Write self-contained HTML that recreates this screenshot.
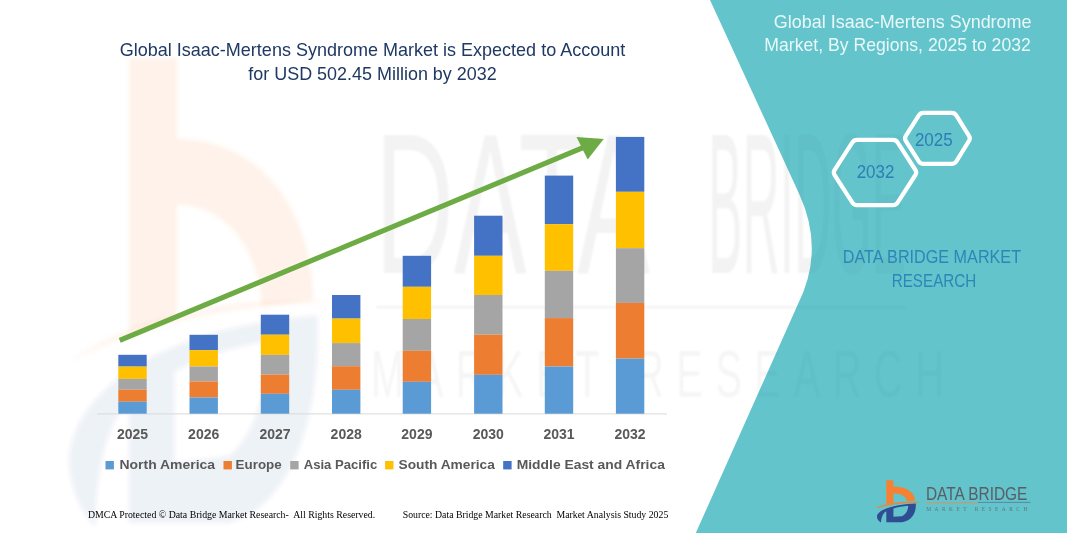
<!DOCTYPE html>
<html lang="en">
<head>
<meta charset="utf-8">
<title>Global Isaac-Mertens Syndrome Market</title>
<style>
html,body{margin:0;padding:0;background:#fff;}
body{width:1067px;height:533px;overflow:hidden;position:relative;}
svg{display:block;position:absolute;left:0;top:0;}
.sans{font-family:"Liberation Sans","DejaVu Sans",sans-serif;}
.serif{font-family:"Liberation Serif","DejaVu Serif",serif;}
</style>
</head>
<body>
<svg width="1067" height="533" viewBox="0 0 1067 533">
  <defs>
    <filter id="blur2" x="-10%" y="-10%" width="120%" height="120%"><feGaussianBlur stdDeviation="2"/></filter>
    <filter id="blur1" x="-10%" y="-10%" width="120%" height="120%"><feGaussianBlur stdDeviation="1.2"/></filter>
    <path id="lg-b" d="M886.3,480.2 L893.4,480.2 L893.4,486.4 C905,486 914.5,491.5 915.3,500.6 L907.2,501.4 C906.8,496.5 901,493.2 893.4,493.4 L893.4,503.0 L886.3,504.4 Z"/>
    <path id="lg-sw" d="M877.1,507.6 C888,503.2 903,501.6 918.2,502.3 C903,502.4 889,504.2 877.1,507.6 Z"/>
    <path id="lg-d" fill-rule="evenodd" d="M877,515.8 C879,509.5 893,504.5 915.8,503.5 C916.5,514 910.5,521 902,522.2 L886.3,522.2 L886.3,511.2 C883,513 881,517.5 881,522.6 C878.5,521 876.6,518.6 877,515.8 Z M893.4,508.6 L893.4,516.8 L902,516.2 C905.6,514.5 908,511 908.2,505.8 C903,506.2 897.5,507.2 893.4,508.6 Z"/>
    <mask id="wmmask" maskUnits="userSpaceOnUse" x="0" y="0" width="1067" height="533"><rect width="1067" height="533" fill="#fff"/><path d="M710,0 L1067,0 L1067,533 L695.8,533 L798,304 Q825,250 799.2,194 Z" fill="#707070"/></mask>
  </defs>
  <rect width="1067" height="533" fill="#ffffff"/>

  <!-- watermark (left, on white) -->
  <g id="wm-left" filter="url(#blur2)">
    <path d="M129,58 L177,58 L177,139 C255,139 310,200 314,300 L262,306 C258,250 228,205 177,205 L177,318 L129,333 Z" fill="#f58233" opacity="0.10"/>
    <g transform="translate(129,58) scale(6.38,11.06) translate(-886.3,-480.2)">
    <use href="#lg-sw" fill="#f58233" opacity="0.08"/>
    <use href="#lg-d" fill="#2e4a8a" opacity="0.07"/>
  </g></g>

  <!-- teal panel -->
  <path id="teal" d="M710,0 L1067,0 L1067,533 L695.8,533 L798,304 Q825,250 799.2,194 Z" fill="#63c4cb"/>

  <!-- watermark text -->
  <g mask="url(#wmmask)"><g id="wm-text" class="sans" filter="url(#blur1)" opacity="0.05" fill="#000">
    <text x="375" y="273" font-size="200" textLength="275" lengthAdjust="spacingAndGlyphs">DATA</text>
    <text x="708" y="273" font-size="200" textLength="198" lengthAdjust="spacingAndGlyphs">BRIDGE</text>
    <rect x="376" y="306" width="530" height="2.5"/>
    <text transform="translate(371,397) scale(0.6,1)" x="0" y="0" font-size="66" textLength="955" lengthAdjust="spacing" opacity="0.8">MARKET RESEARCH</text>
  </g></g>

  <!-- chart title -->
  <g class="sans" fill="#1f3864" font-size="18.6" text-anchor="middle">
    <text x="372.5" y="56" textLength="505.5" lengthAdjust="spacingAndGlyphs">Global Isaac-Mertens Syndrome Market is Expected to Account</text>
    <text x="372.5" y="80" textLength="248.5" lengthAdjust="spacingAndGlyphs">for USD 502.45 Million by 2032</text>
  </g>

  <!-- axis -->
  <rect x="97" y="413.4" width="570" height="1" fill="#d9d9d9"/>

  <!-- bars -->
  <g id="bars">
    <!-- 2025 -->
    <rect x="118.3" y="354.8" width="28.4" height="11.8" fill="#4472c4"/>
    <rect x="118.3" y="366.6" width="28.4" height="12.3" fill="#ffc000"/>
    <rect x="118.3" y="378.9" width="28.4" height="10.8" fill="#a5a5a5"/>
    <rect x="118.3" y="389.7" width="28.4" height="12.0" fill="#ed7d31"/>
    <rect x="118.3" y="401.7" width="28.4" height="12.0" fill="#5b9bd5"/>
    <!-- 2026 -->
    <rect x="189.5" y="334.8" width="28.4" height="15.4" fill="#4472c4"/>
    <rect x="189.5" y="350.2" width="28.4" height="16.3" fill="#ffc000"/>
    <rect x="189.5" y="366.5" width="28.4" height="14.9" fill="#a5a5a5"/>
    <rect x="189.5" y="381.4" width="28.4" height="16.1" fill="#ed7d31"/>
    <rect x="189.5" y="397.5" width="28.4" height="16.2" fill="#5b9bd5"/>
    <!-- 2027 -->
    <rect x="260.8" y="314.7" width="28.4" height="20.0" fill="#4472c4"/>
    <rect x="260.8" y="334.7" width="28.4" height="20.2" fill="#ffc000"/>
    <rect x="260.8" y="354.9" width="28.4" height="19.7" fill="#a5a5a5"/>
    <rect x="260.8" y="374.6" width="28.4" height="19.2" fill="#ed7d31"/>
    <rect x="260.8" y="393.8" width="28.4" height="19.9" fill="#5b9bd5"/>
    <!-- 2028 -->
    <rect x="332.0" y="295.0" width="28.4" height="23.6" fill="#4472c4"/>
    <rect x="332.0" y="318.6" width="28.4" height="24.5" fill="#ffc000"/>
    <rect x="332.0" y="343.1" width="28.4" height="23.1" fill="#a5a5a5"/>
    <rect x="332.0" y="366.2" width="28.4" height="23.6" fill="#ed7d31"/>
    <rect x="332.0" y="389.8" width="28.4" height="23.9" fill="#5b9bd5"/>
    <!-- 2029 -->
    <rect x="402.7" y="255.8" width="28.4" height="31.0" fill="#4472c4"/>
    <rect x="402.7" y="286.8" width="28.4" height="32.2" fill="#ffc000"/>
    <rect x="402.7" y="319.0" width="28.4" height="31.8" fill="#a5a5a5"/>
    <rect x="402.7" y="350.8" width="28.4" height="31.0" fill="#ed7d31"/>
    <rect x="402.7" y="381.8" width="28.4" height="31.9" fill="#5b9bd5"/>
    <!-- 2030 -->
    <rect x="474.1" y="215.7" width="28.4" height="40.1" fill="#4472c4"/>
    <rect x="474.1" y="255.8" width="28.4" height="39.2" fill="#ffc000"/>
    <rect x="474.1" y="295.0" width="28.4" height="39.7" fill="#a5a5a5"/>
    <rect x="474.1" y="334.7" width="28.4" height="40.1" fill="#ed7d31"/>
    <rect x="474.1" y="374.8" width="28.4" height="38.9" fill="#5b9bd5"/>
    <!-- 2031 -->
    <rect x="544.8" y="175.6" width="28.4" height="48.6" fill="#4472c4"/>
    <rect x="544.8" y="224.2" width="28.4" height="46.6" fill="#ffc000"/>
    <rect x="544.8" y="270.8" width="28.4" height="47.3" fill="#a5a5a5"/>
    <rect x="544.8" y="318.1" width="28.4" height="48.4" fill="#ed7d31"/>
    <rect x="544.8" y="366.5" width="28.4" height="47.2" fill="#5b9bd5"/>
    <!-- 2032 -->
    <rect x="615.9" y="136.9" width="28.4" height="54.9" fill="#4472c4"/>
    <rect x="615.9" y="191.8" width="28.4" height="56.4" fill="#ffc000"/>
    <rect x="615.9" y="248.2" width="28.4" height="54.7" fill="#a5a5a5"/>
    <rect x="615.9" y="302.9" width="28.4" height="55.7" fill="#ed7d31"/>
    <rect x="615.9" y="358.6" width="28.4" height="55.1" fill="#5b9bd5"/>
  </g>

  <!-- trend arrow -->
  <g id="arrow">
    <line x1="119.7" y1="340.4" x2="586" y2="146.3" stroke="#6dab44" stroke-width="5.2"/>
    <polygon points="603.8,138.9 576.5,136.9 587.7,159.4" fill="#6dab44"/>
  </g>

  <!-- year labels -->
  <g class="sans" font-weight="bold" font-size="14" fill="#595959" text-anchor="middle">
    <text x="132.5" y="439">2025</text>
    <text x="203.7" y="439">2026</text>
    <text x="275.0" y="439">2027</text>
    <text x="346.2" y="439">2028</text>
    <text x="416.9" y="439">2029</text>
    <text x="488.3" y="439">2030</text>
    <text x="559.0" y="439">2031</text>
    <text x="630.1" y="439">2032</text>
  </g>

  <!-- legend -->
  <g id="legend">
    <rect x="105.5" y="461" width="8.4" height="8.4" fill="#5b9bd5"/>
    <rect x="223.5" y="461" width="8.4" height="8.4" fill="#ed7d31"/>
    <rect x="290.2" y="461" width="8.4" height="8.4" fill="#a5a5a5"/>
    <rect x="385.1" y="461" width="8.4" height="8.4" fill="#ffc000"/>
    <rect x="503.2" y="461" width="8.4" height="8.4" fill="#4472c4"/>
    <g class="sans" font-weight="bold" font-size="13.6" fill="#595959">
      <text x="119.5" y="469" textLength="95.6" lengthAdjust="spacingAndGlyphs">North America</text>
      <text x="235.6" y="469" textLength="46.1" lengthAdjust="spacingAndGlyphs">Europe</text>
      <text x="303.7" y="469" textLength="73.6" lengthAdjust="spacingAndGlyphs">Asia Pacific</text>
      <text x="398.5" y="469" textLength="96.4" lengthAdjust="spacingAndGlyphs">South America</text>
      <text x="516.7" y="469" textLength="148.2" lengthAdjust="spacingAndGlyphs">Middle East and Africa</text>
    </g>
  </g>

  <!-- footer -->
  <g class="serif" font-size="9.5" fill="#000">
    <text x="87.9" y="517.9" textLength="287.3" lengthAdjust="spacingAndGlyphs" xml:space="preserve">DMCA Protected © Data Bridge Market Research-  All Rights Reserved.</text>
    <text x="402.7" y="517.9" textLength="265.6" lengthAdjust="spacingAndGlyphs" xml:space="preserve">Source: Data Bridge Market Research  Market Analysis Study 2025</text>
  </g>

  <!-- right panel title -->
  <g class="sans" font-size="18.2" fill="#e9f8f9" text-anchor="end">
    <text x="1031.6" y="27.9" textLength="257.8" lengthAdjust="spacingAndGlyphs">Global Isaac-Mertens Syndrome</text>
    <text x="1030.8" y="51.1" textLength="266.5" lengthAdjust="spacingAndGlyphs">Market, By Regions, 2025 to 2032</text>
  </g>

  <!-- hexagons -->
  <g fill="none" stroke="#ffffff" stroke-width="4.2" stroke-linejoin="round">
    <path d="M834.6,175.0 Q833.0,172.5 834.6,170.0 L852.4,142.3 Q854.0,139.8 857.0,139.8 L893.0,139.8 Q896.0,139.8 897.6,142.3 L915.4,170.0 Q917.0,172.5 915.4,175.0 L897.6,202.7 Q896.0,205.2 893.0,205.2 L857.0,205.2 Q854.0,205.2 852.4,202.7 Z"/>
    <path d="M905.8,140.8 Q904.2,138.3 905.8,135.8 L918.8,115.3 Q920.4,112.8 923.4,112.8 L951.7,112.8 Q954.7,112.8 956.3,115.3 L969.0,135.8 Q970.6,138.3 969.0,140.8 L956.3,161.3 Q954.7,163.8 951.7,163.8 L923.4,163.8 Q920.4,163.8 918.8,161.3 Z"/>
  </g>
  <g class="sans" font-size="18" fill="#2e7db7" text-anchor="middle">
    <text x="875.5" y="177.7" textLength="37.7" lengthAdjust="spacingAndGlyphs">2032</text>
    <text x="933.8" y="145.7" textLength="37.8" lengthAdjust="spacingAndGlyphs">2025</text>
  </g>

  <!-- DBMR text -->
  <g class="sans" font-size="17.6" fill="#2e86b8" text-anchor="middle">
    <text x="931.9" y="263" textLength="178.3" lengthAdjust="spacingAndGlyphs">DATA BRIDGE MARKET</text>
    <text x="934" y="286.7" textLength="84.5" lengthAdjust="spacingAndGlyphs">RESEARCH</text>
  </g>

  <!-- logo -->
  <g id="logo">
    <use href="#lg-b" fill="#f58233"/>
    <use href="#lg-sw" fill="#f58233" stroke="#f58233" stroke-width="0.8" stroke-linejoin="round"/>
    <use href="#lg-d" fill="#2e4d92"/>
    <!-- text -->
    <text class="sans" x="925.9" y="499.7" font-size="17.6" fill="#5a5d66" textLength="101.5" lengthAdjust="spacingAndGlyphs">DATA BRIDGE</text>
    <rect x="926" y="502.3" width="52" height="0.9" fill="#e0905a"/>
    <rect x="978" y="501.9" width="52.5" height="0.9" fill="#5a7fa8"/>
    <text class="serif" x="926.3" y="510.9" font-size="5.4" fill="#5a5d66" opacity="0.75" textLength="101" lengthAdjust="spacing">MARKET RESEARCH</text>
  </g>
</svg>
</body>
</html>
